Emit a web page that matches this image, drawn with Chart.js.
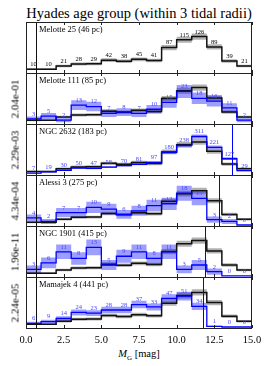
<!DOCTYPE html>
<html>
<head>
<meta charset="utf-8">
<script src="https://cdn.jsdelivr.net/npm/chart.js@4"></script>
<style>
body { margin: 0; background: #fff; }
#fig { position: relative; width: 274px; height: 366px; font-family: 'Liberation Serif', serif; color: #000; overflow: hidden; }
#fig canvas { position: absolute; left: 0; }
.ylab { position: absolute; left: 15px; transform: translate(-50%, -50%) rotate(-90deg); font-size: 11px; white-space: nowrap; line-height: 11px; }
</style>
</head>
<body>
<div id="fig">
  <div style="position:absolute;left:26px;width:226px;top:6px;text-align:center;font-size:14.5px;line-height:15px;white-space:nowrap">Hyades age group (within 3 tidal radii)</div>
  <div style="position:absolute;left:26px;width:226px;top:348px;text-align:center;font-size:10.5px;line-height:11px"><i>M</i><sub style="font-size:7px">G</sub> [mag]</div>
</div>
<script>
// bin edges in M_G (1 mag bins)
const magEdges = [0, 1, 2, 3, 4, 5, 6, 7, 8, 9, 10, 11, 12, 13, 14, 15];
const xTicks = [0, 2.5, 5, 7.5, 10, 12.5, 15];

// star counts per bin
const hyadesCounts    = [10, 10, 21, 28, 29, 42, 38, 45, 41, 87, 115, 126, 89, 39, 21];
const melotte111Counts = [3, 5, 2, 13, 12, 7, 8, 7, 10, 15, 23, 18, 16, 11, 2];
const ngc2632Counts   = [7, 19, 30, 50, 47, 58, 70, 81, 97, 180, 238, 311, 221, 127, 29];
const alessi3Counts   = [4, 2, 7, 7, 10, 9, 6, 8, 11, 12, 18, 15, 3, 2, 0];
const ngc1901Counts   = [3, 6, 11, 8, 13, 5, 9, 11, 8, 11, 3, 5, 2, 0, 0];
const mamajek4Counts  = [6, 9, 14, 24, 23, 28, 28, 37, 33, 47, 51, 34, 1, 0, 0];

const clusterNames = ['Melotte 25 (46 pc)', 'Melotte 111 (85 pc)', 'NGC 2632 (183 pc)',
                      'Alessi 3 (275 pc)', 'NGC 1901 (415 pc)', 'Mamajek 4 (441 pc)'];
const pValues = ['', '2.04e-01', '2.29e-03', '4.34e-04', '1.96e-11', '2.24e-05'];
const hyadesLimit = 0.66;
const clusterLimits = [null, null, 13.7, 12.83, 11.9, 11.78];
const yTop = [0.24, 0.24, 0.265, 0.248, 0.24, 0.246];
const yBottom = -0.005;

const allCounts = [hyadesCounts, melotte111Counts, ngc2632Counts, alessi3Counts, ngc1901Counts, mamajek4Counts];

const fig = document.getElementById('fig');
const serif = "'Liberation Serif', serif";

function norm(counts) {
    const total = counts.reduce((a, b) => a + b, 0);
    return {
        dens: counts.map(c => c / total),
        err: counts.map(c => Math.sqrt(c) / total)
    };
}

function steps(vals) {
    return magEdges.map((x, i) => ({ x: x, y: vals[Math.min(i, vals.length - 1)] }));
}

function histSets(counts, line, band, lineW, orderBase) {
    const h = norm(counts);
    return [
        { data: steps(h.dens.map((d, i) => d + h.err[i])), borderWidth: 0, fill: false, order: orderBase + 2 },
        { data: steps(h.dens.map((d, i) => d - h.err[i])), borderWidth: 0, fill: '-1', backgroundColor: band, order: orderBase + 2 },
        { data: steps(h.dens), borderColor: line, borderWidth: lineW, fill: false, order: orderBase }
    ];
}

const hyades = norm(hyadesCounts);

allCounts.forEach((counts, k) => {
    const top = 22 + 51 * k;
    const last = k === allCounts.length - 1;
    const canvas = document.createElement('canvas');
    canvas.width = 274;
    canvas.height = last ? 94 : 53;
    canvas.style.top = (top - 1) + 'px';
    fig.appendChild(canvas);

    let datasets = histSets(hyadesCounts, '#111', 'rgba(0,0,0,0.3)', 1.5, 3);
    const own = k === 0 ? hyades : norm(counts);
    const labelColor = k === 0 ? '#000' : '#4646ff';
    if (k > 0) {
        datasets = datasets.concat(histSets(counts, '#0000ff', 'rgba(0,0,255,0.38)', 1.3, 0));
        // blue band below the black line
        datasets[4].order = 4; datasets[3].order = 4;
    }
    datasets.forEach(d => { d.stepped = true; d.pointRadius = 0; d.tension = 0; });

    const deco = {
        id: 'deco' + k,
        afterDatasetsDraw(chart) {
            const ctx = chart.ctx, a = chart.chartArea;
            const xs = chart.scales.x, ys = chart.scales.y;
            ctx.save();
            // magnitude limits
            ctx.lineWidth = 1;
            ctx.strokeStyle = '#111';
            let px = Math.round(xs.getPixelForValue(hyadesLimit)) + 0.5;
            ctx.beginPath(); ctx.moveTo(px, a.top); ctx.lineTo(px, a.bottom); ctx.stroke();
            if (clusterLimits[k] !== null) {
                ctx.strokeStyle = '#0000ff';
                px = Math.round(xs.getPixelForValue(clusterLimits[k])) + 0.5;
                ctx.beginPath(); ctx.moveTo(px, a.top); ctx.lineTo(px, a.bottom); ctx.stroke();
            }
            // frame and inward ticks
            ctx.strokeStyle = '#222';
            ctx.strokeRect(a.left + 0.5, a.top + 0.5, a.right - a.left - 1, a.bottom - a.top);
            xTicks.forEach(t => {
                const tx = Math.round(xs.getPixelForValue(t)) + 0.5;
                ctx.beginPath();
                ctx.moveTo(tx, a.bottom); ctx.lineTo(tx, a.bottom - 3);
                ctx.moveTo(tx, a.top); ctx.lineTo(tx, a.top + 3);
                ctx.stroke();
            });
            // counts above bins
            ctx.fillStyle = labelColor;
            ctx.font = '6.5px ' + serif;
            ctx.textAlign = 'center';
            ctx.textBaseline = 'bottom';
            counts.forEach((c, i) => {
                const lx = xs.getPixelForValue(magEdges[i] + 0.5);
                const ly = ys.getPixelForValue(own.dens[i]) - 1.5;
                ctx.fillText(String(c), lx, ly);
            });
            // cluster name
            ctx.fillStyle = '#000';
            ctx.font = '8.5px ' + serif;
            ctx.textAlign = 'left';
            ctx.textBaseline = 'alphabetic';
            ctx.fillText(clusterNames[k], a.left + 13, a.top + 10);
            // x tick labels under the last panel
            if (last) {
                ctx.font = '10.5px ' + serif;
                ctx.textAlign = 'center';
                ctx.textBaseline = 'middle';
                xTicks.forEach(t => {
                    ctx.fillText(t.toFixed(1), xs.getPixelForValue(t), a.bottom + 12);
                });
            }
            ctx.restore();
        }
    };

    new Chart(canvas.getContext('2d'), {
        type: 'line',
        data: { datasets: datasets },
        options: {
            responsive: false,
            animation: false,
            layout: { padding: { left: 26, right: 22, top: 1, bottom: last ? 42 : 1 } },
            scales: {
                x: { type: 'linear', min: 0, max: 15, display: false },
                y: { min: yBottom, max: yTop[k], display: false }
            },
            plugins: { legend: { display: false }, tooltip: { enabled: false } }
        },
        plugins: [deco]
    });

    if (pValues[k]) {
        const lab = document.createElement('div');
        lab.className = 'ylab';
        lab.style.top = (top + 25.5) + 'px';
        lab.textContent = pValues[k];
        fig.appendChild(lab);
    }
});
</script>
</body>
</html>
